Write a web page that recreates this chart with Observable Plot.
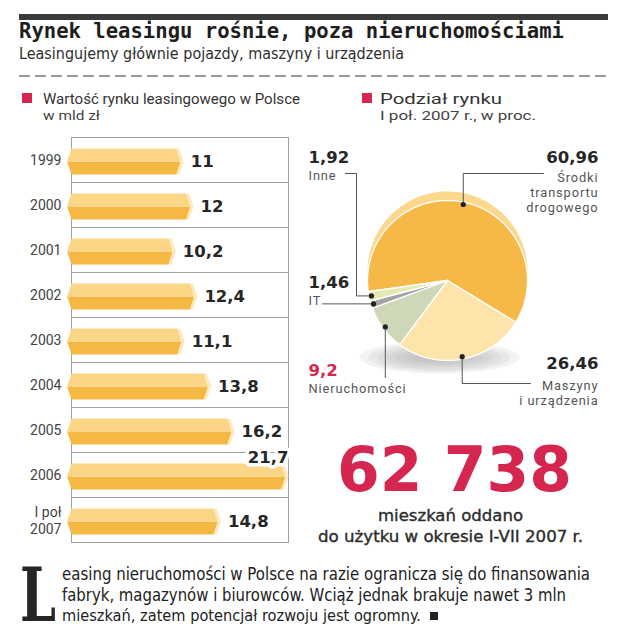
<!DOCTYPE html>
<html><head><meta charset="utf-8">
<script src="https://cdn.jsdelivr.net/npm/d3@7"></script>
<script src="https://cdn.jsdelivr.net/npm/@observablehq/plot@0.6"></script>
<style>
html,body{margin:0;padding:0;background:#fff;}
#root{position:relative;width:627px;height:640px;overflow:hidden;background:#fff}
#root > svg, #root > div{position:absolute}
</style></head><body><div id="root"></div>
<script>
// ---------- texts ----------
const title = "Rynek leasingu rośnie, poza nieruchomościami";
const subtitle = "Leasingujemy głównie pojazdy, maszyny i urządzenia";
const barTitle = "Wartość rynku leasingowego w Polsce";
const barUnit = "w mld zł";
const pieTitle = "Podział rynku";
const pieUnit = "I poł. 2007 r., w proc.";
const bigNumber = "62 738";
const bigNumberText = ["mieszkań oddano", "do użytku w okresie I-VII 2007 r."];
const dropCap = "L";
const bodyText = [
  "easing nieruchomości w Polsce na razie ogranicza się do finansowania",
  "fabryk, magazynów i biurowców. Wciąż jednak brakuje nawet 3 mln",
  "mieszkań, zatem potencjał rozwoju jest ogromny."
];

// ---------- data ----------
const years = ["1999", "2000", "2001", "2002", "2003", "2004", "2005", "2006", "I poł\n2007"];
const leasingValues = [11, 12, 10.2, 12.4, 11.1, 13.8, 16.2, 21.7, 14.8];

const shareNames = ["Środki transportu drogowego", "Maszyny i urządzenia", "Nieruchomości", "IT", "Inne"];
const shareLines = [["Środki", "transportu", "drogowego"], ["Maszyny", "i urządzenia"], ["Nieruchomości"], ["IT"], ["Inne"]];
const shareValues = [60.96, 26.46, 9.2, 1.46, 1.92];
const shareColors = ["#f6b947", "#fce4ab", "#cfd7b9", "#a3a3a3", "#e6e9b2"];

const fmt = v => String(v).replace(".", ",");
const RED = "#d4264f";

const root = document.getElementById("root");
const NS = "http://www.w3.org/2000/svg";

// ---------- overlay (titles, legend, callout, paragraph) ----------
const ov = document.createElementNS(NS, "svg");
ov.setAttribute("width", 627); ov.setAttribute("height", 640);
ov.style.left = "0px"; ov.style.top = "0px";
root.appendChild(ov);
function el(tag, attrs, text) {
  const e = document.createElementNS(NS, tag);
  for (const k in attrs) e.setAttribute(k, attrs[k]);
  if (text != null) e.textContent = text;
  ov.appendChild(e); return e;
}
// text fitted to a target width: shrink the font only if needed, then stretch to exact width
function fitText(attrs, text, target, tol = 1.03) {
  const e = el("text", attrs, text);
  const nat = e.getComputedTextLength();
  if (nat > target * tol) {
    const fs = parseFloat(attrs["font-size"]) * target * tol / nat;
    e.setAttribute("font-size", fs.toFixed(2));
  }
  e.setAttribute("textLength", target);
  e.setAttribute("lengthAdjust", "spacingAndGlyphs");
  return e;
}
const NARROW = "'Liberation Sans Narrow','DejaVu Sans Condensed',sans-serif";
el("rect", {x: 19, y: 14, width: 589, height: 6, fill: "#3a3a3a"});
fitText({x: 19, y: 38, "font-family": "DejaVu Sans Mono", "font-weight": "bold", "font-size": 20.6, fill: "#1e1e1e"}, title, 545);
fitText({x: 19, y: 59, "font-family": NARROW, "font-size": 18, fill: "#2e2e2e"}, subtitle, 385);
el("line", {x1: 19, x2: 608, y1: 76, y2: 76, stroke: "#9a9a9a", "stroke-width": 2, "stroke-dasharray": "11 5"});
el("rect", {x: 22, y: 93, width: 10, height: 10, fill: RED});
fitText({x: 43, y: 104, "font-family": "Roboto", "font-size": 15, fill: "#333"}, barTitle, 257);
fitText({x: 43, y: 120, "font-family": "Roboto", "font-size": 13, fill: "#444"}, barUnit, 57);
el("rect", {x: 362, y: 93, width: 10, height: 10, fill: RED});
fitText({x: 380, y: 104, "font-family": "Roboto", "font-size": 15, fill: "#333"}, pieTitle, 122);
fitText({x: 380, y: 120, "font-family": "Roboto", "font-size": 13, fill: "#444"}, pieUnit, 156);
fitText({x: 337, y: 491, "font-family": "DejaVu Sans", "font-weight": "bold", "font-size": 62, fill: RED}, bigNumber, 235, 1.05);
const calloutStyle = {"font-family": "DejaVu Sans Condensed", "font-size": 16.5, fill: "#2c2c2c", stroke: "#2c2c2c", "stroke-width": 0.35};
fitText({x: 378, y: 521, ...calloutStyle}, bigNumberText[0], 145);
fitText({x: 318, y: 542, ...calloutStyle}, bigNumberText[1], 265);
fitText({x: 20, y: 621, "font-family": "DejaVu Serif", "font-weight": "bold", "font-size": 74, fill: "#262626"}, dropCap, 36, 2);
const bodyW = [528, 504, 359];
bodyText.forEach((t, i) => fitText({x: 62, y: 580 + i * 20.5, "font-family": NARROW, "font-size": 18.5, fill: "#222"}, t, bodyW[i]));
el("rect", {x: 430, y: 612, width: 8, height: 8, fill: "#222"});

// ---------- bar chart ----------
const rows = years.map((year, i) => ({year, value: leasingValues[i]}));
const maxVal = d3.max(leasingValues);
const TIP = 0.45, CAP = 0.3, TOP = 0.243, MID = 0.533, BOT = 0.824;
const xMax = maxVal + TIP;
const poly = (d, pts) => pts.map(([x, y]) => ({year: d.year, x, y}));
const upperPts = rows.flatMap(d => poly(d, [[-TIP, MID], [0, TOP], [d.value - CAP, TOP], [d.value + TIP - CAP, MID]]));
const lowerPts = rows.flatMap(d => poly(d, [[-TIP, MID], [d.value + TIP - CAP, MID], [d.value - CAP, BOT], [0, BOT]]));
const capPts = rows.flatMap(d => poly(d, [[d.value - CAP, TOP], [d.value, TOP], [d.value + TIP, MID], [d.value, BOT], [d.value - CAP, BOT], [d.value + TIP - CAP, MID]]));

const barPlot = Plot.plot({
  width: 300, height: 425,
  marginTop: 10, marginBottom: 7, marginLeft: 71, marginRight: 12,
  style: {background: "transparent", fontFamily: "Roboto, sans-serif", fontSize: "14px", color: "#444"},
  x: {domain: [0, xMax], axis: null},
  y: {domain: [1, 0], axis: null},
  fy: {domain: years, padding: 0},
  marks: [
    Plot.frame({stroke: "#a0a0a0", strokeWidth: 1}),
    Plot.line(lowerPts, {x: "x", y: "y", z: "year", fy: "year", fill: "#f5b843", curve: "linear-closed"}),
    Plot.line(upperPts, {x: "x", y: "y", z: "year", fy: "year", fill: "#fcd687", curve: "linear-closed"}),
    Plot.line(capPts, {x: "x", y: "y", z: "year", fy: "year", fill: "#fce9bd", curve: "linear-closed"}),
    Plot.text(rows.filter(d => d.value < maxVal), {
      x: d => d.value + TIP, y: () => MID, fy: "year", text: d => fmt(d.value),
      textAnchor: "start", dx: 7, fontFamily: "DejaVu Sans", fontWeight: "bold", fontSize: 16.5, fill: "#262626"
    }),
    Plot.text(rows.filter(d => d.value === maxVal), {
      x: () => xMax, y: () => 0.11, fy: "year", text: d => fmt(d.value),
      textAnchor: "end", fontFamily: "DejaVu Sans", fontWeight: "bold", fontSize: 16.5, fill: "#262626",
      stroke: "white", strokeWidth: 7
    }),
    Plot.axisFy({anchor: "left", label: null, tickSize: 0, tickPadding: 10, lineHeight: 1.2, fontSize: 14, fontFamily: "Roboto", fill: "#444"})
  ]
});
barPlot.style.left = "0px"; barPlot.style.top = "125px";
root.appendChild(barPlot);

// ---------- pie chart ----------
const CX = 147, CY = 150, R = 80, RIM = 9;
const start = -98 * Math.PI / 180;
const arcs = d3.pie().sort(null).startAngle(start).endAngle(start + 2 * Math.PI)(shareValues);
function slice(a, i, cx, cy, r) {
  const n = Math.max(2, Math.ceil((a.endAngle - a.startAngle) / 0.02));
  const pts = [{name: shareNames[i], color: shareColors[i], x: cx, y: cy}];
  for (let k = 0; k <= n; k++) {
    const t = a.startAngle + (a.endAngle - a.startAngle) * k / n;
    pts.push({name: shareNames[i], color: shareColors[i], x: cx + r * Math.sin(t), y: cy - r * Math.cos(t)});
  }
  return pts;
}
const slicePts = arcs.flatMap((a, i) => slice(a, i, CX, CY, R));
const rimPts = slice(arcs[0], 0, CX, CY - RIM, R).map(d => ({...d, color: "#fbd88e"}));
const shadowPts = d3.range(7).flatMap(k => d3.range(0, 361, 6).map(deg => ({
  k, x: CX - 8 + (80 - k * 9) * Math.cos(deg * Math.PI / 180), y: CY + 77 + (16 - k * 2) * Math.sin(deg * Math.PI / 180)
})));
const dots = arcs.map((a, i) => {
  const m = (a.startAngle + a.endAngle) / 2;
  return {name: shareNames[i], x: CX + 0.97 * R * Math.sin(m), y: CY - 0.97 * R * Math.cos(m)};
});
// label layout (in pie svg pixels)
const layout = [
  {vx: 298, vy: 27, ny: 62, anchor: "end", leader: d => [d, {x: d.x, y: 43}, {x: 243, y: 43}]},
  {vx: 298, vy: 233, ny: 262, anchor: "end", leader: d => [d, {x: d.x, y: 253}, {x: 230, y: 253}]},
  {vx: 8, vy: 240, ny: 258, anchor: "start", leader: d => [d, {x: d.x, y: 247}], color: RED},
  {vx: 8, vy: 152, ny: 170, anchor: "start", leader: d => [{x: 22, y: d.y}, d]},
  {vx: 8, vy: 27, ny: 45, anchor: "start", leader: d => [{x: 45, y: 43}, {x: 56, y: 43}, {x: 56, y: d.y}, d]}
];
const leaderPts = dots.flatMap((d, i) => layout[i].leader(d).map(p => ({name: d.name, x: p.x, y: p.y})));
const labels = shareNames.map((name, i) => ({
  name, value: fmt(shareValues[i]), lines: shareLines[i].join("\n"), ...layout[i], vcolor: layout[i].color || "#262626"
}));
const textMarks = ["start", "end"].flatMap(anchor => {
  const data = labels.filter(d => d.anchor === anchor);
  return [
    Plot.text(data, {x: "vx", y: "vy", text: "value", fill: "vcolor", textAnchor: anchor, fontFamily: "DejaVu Sans", fontWeight: "bold", fontSize: 16.5}),
    Plot.text(data, {x: "vx", y: "ny", text: "lines", fill: "#555", textAnchor: anchor, fontFamily: "Roboto", fontSize: 12.8, lineHeight: 1.18})
  ];
});

const piePlot = Plot.plot({
  width: 327, height: 300, margin: 0,
  style: {background: "transparent"},
  x: {domain: [0, 327], range: [0, 327], axis: null},
  y: {domain: [0, 300], range: [0, 300], axis: null},
  color: {type: "identity"},
  marks: [
    Plot.line(shadowPts, {x: "x", y: "y", z: "k", fill: "#a8a8a8", fillOpacity: 0.14, curve: "linear-closed"}),
    Plot.line(rimPts, {x: "x", y: "y", z: "name", fill: "color", curve: "linear-closed"}),
    Plot.line(slicePts, {x: "x", y: "y", z: "name", fill: "color", stroke: "white", strokeWidth: 1.3, curve: "linear-closed"}),
    Plot.line(leaderPts, {x: "x", y: "y", z: "name", stroke: "#555", strokeWidth: 1}),
    Plot.dot(dots, {x: "x", y: "y", r: 2.6, fill: "#222"}),
    ...textMarks
  ]
});
// widen the name labels a little, as in the original lettering
const textGroups = piePlot.querySelectorAll('g[aria-label="text"]');
[1, 3].forEach(i => { if (textGroups[i]) textGroups[i].style.letterSpacing = "0.9px"; });
piePlot.style.left = "300px"; piePlot.style.top = "130px";
root.appendChild(piePlot);
</script></body></html>
